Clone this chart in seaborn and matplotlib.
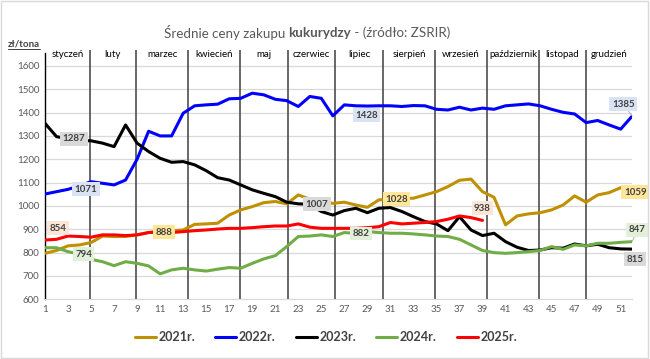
import numpy as np
import pandas as pd
import matplotlib
matplotlib.use("Agg")
import matplotlib.pyplot as plt
from matplotlib.lines import Line2D
from matplotlib.patches import Rectangle
import seaborn as sns

# weekly prices (zl/tona)
weeks = list(range(1, 53))
price_2021 = [797, 809, 829, 833, 843, 871, 869, 869, 876, 886, 888, 894, 897, 921, 923, 926,
              961, 983, 997, 1014, 1019, 1009, 1047, 1029, 1019, 1011, 1016, 1004, 994, 1026,
              1028, 1033, 1033, 1047, 1061, 1083, 1110, 1115, 1061, 1037, 919, 957, 966, 971,
              983, 1004, 1043, 1016, 1047, 1057, 1078, 1059]
price_2022 = [1051, 1061, 1071, 1086, 1104, 1097, 1090, 1111, 1200, 1320, 1300, 1300, 1397,
              1429, 1433, 1436, 1459, 1461, 1483, 1476, 1457, 1451, 1426, 1469, 1461, 1386,
              1433, 1429, 1428, 1429, 1429, 1426, 1430, 1429, 1414, 1411, 1423, 1411, 1419,
              1414, 1429, 1433, 1437, 1429, 1414, 1401, 1394, 1357, 1366, 1347, 1329, 1385]
price_2023 = [1354, 1297, 1287, 1280, 1279, 1269, 1254, 1347, 1269, 1233, 1204, 1187, 1190,
              1176, 1151, 1121, 1111, 1090, 1069, 1054, 1040, 1016, 1009, 1007, 976, 961, 980,
              990, 971, 990, 993, 976, 954, 933, 923, 894, 954, 897, 873, 883, 847, 823, 809,
              811, 821, 819, 837, 829, 836, 821, 816, 815]
price_2024 = [821, 821, 804, 794, 771, 761, 744, 761, 754, 743, 709, 726, 733, 726, 721, 729,
              736, 733, 754, 773, 787, 826, 869, 871, 876, 869, 886, 882, 890, 886, 883, 883,
              880, 876, 871, 869, 857, 833, 809, 800, 797, 800, 804, 809, 826, 814, 833, 829,
              840, 840, 844, 847]
price_2025 = [854, 857, 871, 869, 866, 876, 876, 873, 876, 886, 890, 886, 890, 894, 897, 901,
              904, 904, 907, 911, 914, 914, 923, 909, 904, 904, 904, 904, 907, 911, 929, 923,
              926, 929, 933, 943, 957, 950, 938]

years = ["2021r.", "2022r.", "2023r.", "2024r.", "2025r."]
colors = ["#bf9000", "#0000ff", "#000000", "#70ad47", "#ff0000"]

months = ["styczeń", "luty", "marzec", "kwiecień", "maj", "czerwiec", "lipiec",
          "sierpień", "wrzesień", "październik", "listopad", "grudzień"]
month_edges = [4.9, 8.9, 13.45, 17.9, 22.1, 26.2, 30.4, 34.85, 39.4, 43.9, 48.0]

# data labels: (year, week, dx px, dy px, box colour)
labels = [
    ("2023r.", 3, 6, 0, "#d9d9d9"),
    ("2022r.", 3, 18, 0, "#dae3f3"),
    ("2025r.", 1, 13, 12, "#fbe5d6"),
    ("2024r.", 4, 4, 0, "#e2f0d9"),
    ("2021r.", 11, 4, 0, "#ffe699"),
    ("2023r.", 24, 7, 0, "#d9d9d9"),
    ("2021r.", 31, 6, 0, "#ffe699"),
    ("2024r.", 28, 5, 0, "#e2f0d9"),
    ("2022r.", 29, -1, -9, "#dae3f3"),
    ("2025r.", 39, 0, 12, "#fbe5d6"),
    ("2022r.", 52, -9, 12, "#dae3f3"),
    ("2021r.", 52, 3, 0, "#ffe699"),
    ("2024r.", 52, 5, 12, "#e2f0d9"),
    ("2023r.", 52, 3, -10, "#d9d9d9"),
]

series = [price_2021, price_2022, price_2023, price_2024, price_2025]
df = pd.concat([pd.DataFrame({"week": weeks[:len(s)], "price": s, "year": y})
                for s, y in zip(series, years)], ignore_index=True)

sns.set_style("white")
plt.rcParams["font.family"] = ["Lato", "DejaVu Sans"]

fig = plt.figure(figsize=(6.5, 3.59), dpi=100)
ax = fig.add_axes([0.0692, 0.1663, 0.9034, 0.6944])

y_top = 1668
ax.set_ylim(600, y_top)
ax.set_xlim(1, 52)
ax.set_yticks(range(600, 1700, 100))
ax.set_xticks(range(1, 52, 2))
ax.tick_params(axis="both", length=0, labelsize=7, labelcolor="#595959", pad=4)
for v in range(600, 1700, 100):
    ax.axhline(v, color="#d9d9d9", lw=0.9, zorder=0)

for e in month_edges:
    ax.axvline(e, color="#3f3f3f", lw=1.1, zorder=1)
bounds = [1] + month_edges + [52]
for i, m in enumerate(months):
    ax.text((bounds[i] + bounds[i + 1]) / 2, 1647, m, ha="center", va="center",
            fontsize=7, color="#000000")

sns.lineplot(data=df, x="week", y="price", hue="year", palette=colors,
             lw=2.2, ax=ax, legend=False, zorder=3)
for ln in ax.lines:
    ln.set_solid_joinstyle("round")
    ln.set_solid_capstyle("round")

for y, w, dx, dy, fc in labels:
    val = series[years.index(y)][w - 1]
    arrow = None
    if y in ("2022r.", "2024r.") and w == 52:
        arrow = dict(arrowstyle="-", color="#a6a6a6", lw=0.6, shrinkA=0, shrinkB=0)
    ax.annotate(str(val), (w, val), xytext=(dx, dy), textcoords="offset pixels",
                ha="center", va="center", fontsize=7, fontweight="bold", color="#404040",
                bbox=dict(boxstyle="square,pad=0.25", fc=fc, ec="none"),
                arrowprops=arrow, zorder=5, annotation_clip=False)

sns.despine(ax=ax, top=True, right=True)
ax.spines["left"].set_color("#000000")
ax.spines["left"].set_linewidth(1.0)
ax.spines["left"].set_bounds(600, 1655)
ax.spines["bottom"].set_color("#d9d9d9")
ax.set_xlabel("")
ax.set_ylabel("")

handles = [Line2D([0], [0], color=c, lw=2.2) for c in colors]
leg = fig.legend(handles, years, loc="center", bbox_to_anchor=(326 / 650, 1 - 337 / 359),
                 ncol=5, frameon=False, handlelength=1.7, handletextpad=0.2,
                 columnspacing=1.6, prop={"size": 9, "weight": "bold"})
for t in leg.get_texts():
    t.set_color("#404040")

# title with bold part
fig.canvas.draw()
r = fig.canvas.get_renderer()
parts = [("Średnie ceny zakupu ", "normal"), ("kukurydzy", "bold"), (" - (źródło: ZSRIR)", "normal")]
texts = [fig.text(0, 1 - 33 / 359, p, fontsize=9.6, fontweight=wt, color="#595959",
                  va="center", ha="left") for p, wt in parts]
widths = [t.get_window_extent(r).width for t in texts]
x = 307 - sum(widths) / 2
for t, wd in zip(texts, widths):
    t.set_x(x / 650)
    x += wd

unit = fig.text(8 / 650, 1 - 44 / 359, "zł/tona", fontsize=7, fontweight="bold",
                color="#404040", va="center", ha="left")
bb = unit.get_window_extent(r)
fig.add_artist(Line2D([bb.x0 / 650, bb.x1 / 650], [(bb.y0 - 0.5) / 359] * 2,
                      color="#404040", lw=0.7))

fig.add_artist(Rectangle((0.002, 0.003), 0.995, 0.993, transform=fig.transFigure,
                         fill=False, ec="#d9d9d9", lw=1))

fig.savefig("out.png", dpi=100)
